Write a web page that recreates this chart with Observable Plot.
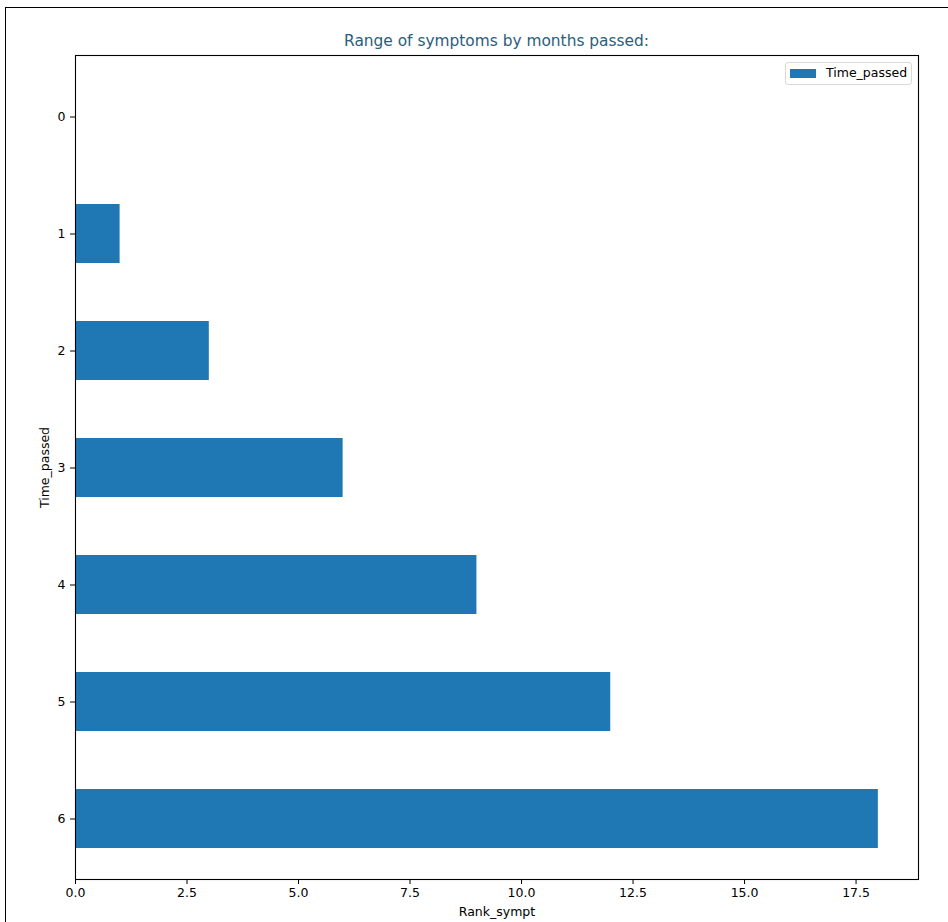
<!DOCTYPE html>
<html>
<head>
<meta charset="utf-8">
<script src="https://cdn.jsdelivr.net/npm/d3@7"></script>
<script src="https://cdn.jsdelivr.net/npm/@observablehq/plot@0.6"></script>
<style>
  html, body { margin: 0; padding: 0; background: #fff; overflow: hidden; width: 948px; height: 922px; }
  #wrap { position: relative; width: 948px; height: 922px; font-family: "DejaVu Sans", sans-serif; }
  #border { position: absolute; left: 5px; top: 7px; width: 1000px; height: 1000px; border: 1.3px solid #000; box-sizing: border-box; }
  #chart { position: absolute; left: 0; top: 0; }
  #title { position: absolute; left: 75px; width: 843px; top: 32px; text-align: center; font-size: 15.4px; color: #2b5d7c; line-height: 19px; }
  #legend { position: absolute; left: 785px; top: 62px; width: 127px; height: 23px; border: 1px solid #d9d9d9; border-radius: 3px; box-sizing: border-box; background: rgba(255,255,255,0.8); }
  #legend .sw { position: absolute; left: 4px; top: 6px; width: 26px; height: 9px; background: #1f77b4; }
  #legend .lbl { position: absolute; left: 40px; top: 2px; font-size: 12.5px; line-height: 16px; color: #000; }
</style>
</head>
<body>
<div id="wrap">
  <div id="border"></div>
  <div id="chart"></div>
  <div id="title">Range of symptoms by months passed:</div>
  <div id="legend"><div class="sw"></div><div class="lbl">Time_passed</div></div>
</div>
<script>
const months = [0, 1, 2, 3, 4, 5, 6];
const rankSympt = [0, 1, 3, 6, 9, 12, 18];
const xTicks = [0, 2.5, 5, 7.5, 10, 12.5, 15, 17.5];
const seriesName = "Time_passed";
const xLabel = "Rank_sympt";
const yLabel = "Time_passed";

const data = months.map((m, i) => ({month: m, value: rankSympt[i]}));

const chart = Plot.plot({
  width: 948,
  height: 922,
  marginLeft: 75,
  marginRight: 30,
  marginTop: 55,
  marginBottom: 43,
  style: { fontFamily: "DejaVu Sans, sans-serif", fontSize: "12.5px", color: "#000", background: "transparent" },
  x: { domain: [0, 18.9] },
  y: { type: "band", domain: months, paddingInner: 0.5, paddingOuter: 0.25, align: 0.5 },
  marks: [
    Plot.barX(data, { x: "value", y: "month", fill: "#1f77b4", inset: 0 }),
    Plot.frame({ stroke: "#000", strokeWidth: 1.1 }),
    Plot.axisX({ ticks: xTicks, tickFormat: d => d.toFixed(1), tickSize: 5, tickPadding: 4, label: xLabel, labelAnchor: "center", labelArrow: "none", labelOffset: 36, stroke: "#000", fill: "#000", fontSize: 12.5 }),
    Plot.axisY({ tickSize: 5, tickPadding: 5, label: yLabel, labelAnchor: "center", labelArrow: "none", labelOffset: 35, stroke: "#000", fill: "#000", fontSize: 12.5 })
  ]
});
document.getElementById("chart").appendChild(chart);
</script>
</body>
</html>
